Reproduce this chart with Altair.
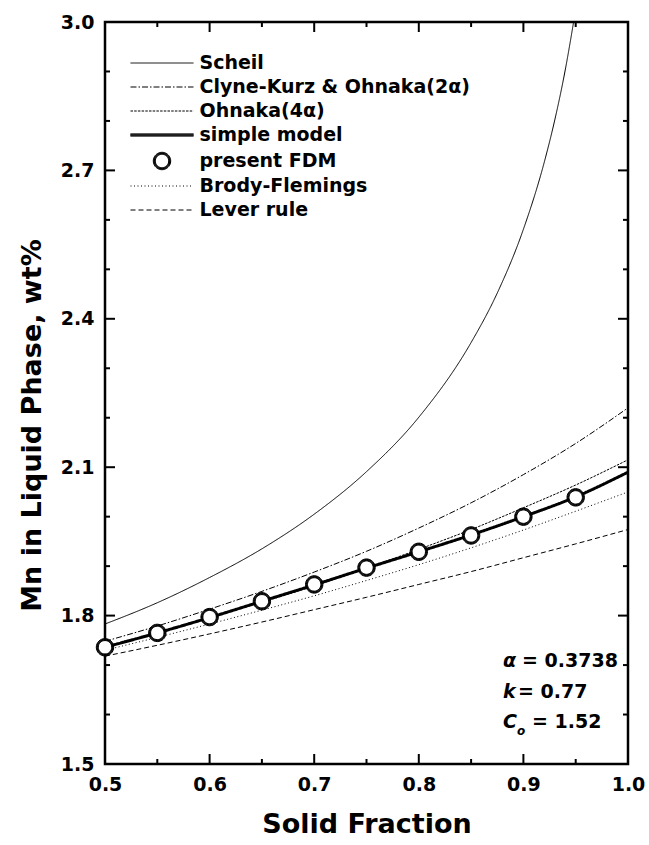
import altair as alt
import pandas as pd

# ---- values (wt% Mn in the liquid vs. solid fraction) ----
fs_grid = [0.50, 0.55, 0.60, 0.65, 0.70, 0.75, 0.80, 0.85, 0.90, 0.95, 1.00]

scheil_fs = [0.50, 0.55, 0.60, 0.65, 0.70, 0.75, 0.80, 0.85, 0.875, 0.90, 0.92, 0.93, 0.94, 0.948]
scheil = [1.783, 1.826, 1.877, 1.935, 2.005, 2.091, 2.201, 2.352, 2.452, 2.581, 2.717, 2.802, 2.903, 3.000]

clyne_kurz = [1.748, 1.779, 1.813, 1.849, 1.888, 1.930, 1.977, 2.028, 2.085, 2.148, 2.220]
ohnaka_4a = [1.738, 1.766, 1.796, 1.827, 1.860, 1.896, 1.934, 1.974, 2.018, 2.064, 2.115]
simple_model = [1.736, 1.765, 1.796, 1.829, 1.862, 1.896, 1.929, 1.963, 2.000, 2.040, 2.090]
brody_flemings = [1.730, 1.756, 1.783, 1.811, 1.840, 1.871, 1.903, 1.937, 1.973, 2.011, 2.050]
lever_rule = [1.718, 1.740, 1.763, 1.787, 1.812, 1.837, 1.863, 1.889, 1.917, 1.945, 1.974]

fdm_fs = [0.50, 0.55, 0.60, 0.65, 0.70, 0.75, 0.80, 0.85, 0.90, 0.95]
fdm = [1.736, 1.765, 1.797, 1.829, 1.863, 1.897, 1.929, 1.962, 2.000, 2.039]

series_names = ["Scheil", "Clyne-Kurz & Ohnaka(2α)", "Ohnaka(4α)", "simple model",
                "present FDM", "Brody-Flemings", "Lever rule"]

x_major = [0.5, 0.6, 0.7, 0.8, 0.9, 1.0]
x_minor = [0.55, 0.65, 0.75, 0.85, 0.95]
y_major = [1.5, 1.8, 2.1, 2.4, 2.7, 3.0]
y_minor = [1.6, 1.7, 1.9, 2.0, 2.2, 2.3, 2.5, 2.6, 2.8, 2.9]


def long_table(names, xs_list, ys_list):
    rows = []
    for name, xs, ys in zip(names, xs_list, ys_list):
        rows += [{"fs": x, "value": y, "model": name} for x, y in zip(xs, ys)]
    return pd.DataFrame(rows)


thin = long_table(["Scheil", "Clyne-Kurz & Ohnaka(2α)", "Ohnaka(4α)", "Brody-Flemings", "Lever rule"],
                  [scheil_fs, fs_grid, fs_grid, fs_grid, fs_grid],
                  [scheil, clyne_kurz, ohnaka_4a, brody_flemings, lever_rule])
thick = long_table(["simple model"], [fs_grid], [simple_model])
points = long_table(["present FDM"], [fdm_fs], [fdm])

W, H = 523, 742
FONT = "DejaVu Sans"

# ---- scales ----
xs = alt.Scale(domain=[0.5, 1.0], nice=False, zero=False)
ys = alt.Scale(domain=[1.5, 3.0], nice=False, zero=False)

dash_scale = alt.Scale(
    domain=series_names,
    range=[[1, 0], [6, 2, 1.5, 2], [2.5, 1.2], [1, 0], [1, 0], [1, 2.5], [5, 3]],
)

# legend / marker glyphs (symbol paths are scaled by sqrt(size)/2)
LINE = "M-15.75,0L15.75,0"
BOLD = "".join(f"M-15.75,{d}L15.75,{d}" for d in (-0.6, -0.3, 0, 0.3, 0.6))


def ring(r):
    return f"M{r},0A{r},{r},0,1,1,{-r},0A{r},{r},0,1,1,{r},0Z"


RING = "".join(ring(r) for r in (3.35, 3.6, 3.85, 4.1, 4.35))
shape_scale = alt.Scale(domain=series_names,
                        range=[LINE, LINE, LINE, BOLD, RING, LINE, LINE])

legend = alt.Legend(title=None)

# one shared axis definition per channel, repeated on every layer
x_axis = alt.Axis(values=x_major, format=".1f", ticks=False, tickSize=0, domain=False,
                  grid=False, labelFlush=False, labelPadding=11,
                  title="Solid Fraction", titleY=60, titleBaseline="middle")
y_axis = alt.Axis(values=y_major, format=".1f", ticks=False, tickSize=0, domain=False,
                  grid=False, labelFlush=False, labelPadding=11,
                  title="Mn in Liquid Phase, wt%", titleX=-73, titleY=403,
                  titleBaseline="middle")


def X(field):
    return alt.X(field, scale=xs, axis=x_axis, title="Solid Fraction")


def Y(field):
    return alt.Y(field, scale=ys, axis=y_axis, title="Mn in Liquid Phase, wt%")


lines_thin = alt.Chart(thin).mark_line(color="black", strokeWidth=1, interpolate="monotone").encode(
    x=X("fs:Q"), y=Y("value:Q"),
    strokeDash=alt.StrokeDash("model:N", scale=dash_scale, legend=legend),
)

line_simple = alt.Chart(thick).mark_line(color="black", strokeWidth=3, interpolate="monotone").encode(
    x=X("fs:Q"), y=Y("value:Q"),
    strokeDash=alt.StrokeDash("model:N", scale=dash_scale, legend=legend),
)

fdm_disks = alt.Chart(points).mark_circle(color="white", opacity=1, size=200).encode(
    x=X("fs:Q"), y=Y("value:Q"),
)

fdm_rings = alt.Chart(points).mark_point(
    filled=False, stroke="black", strokeWidth=1, size=16, opacity=1
).encode(
    x=X("fs:Q"), y=Y("value:Q"),
    shape=alt.Shape("model:N", scale=shape_scale, legend=legend),
)


# ---- inward frame ticks, placed through the axis scales ----
def x_ticks(values, length, top):
    y0, y1 = (0, length) if top else (H, H - length)
    return alt.Chart(pd.DataFrame({"fs": values})).mark_rule(color="black", strokeWidth=2).encode(
        x=X("fs:Q"), y=alt.value(y0), y2=alt.value(y1))


def y_ticks(values, length, right):
    x0, x1 = (W, W - length) if right else (0, length)
    return alt.Chart(pd.DataFrame({"value": values})).mark_rule(color="black", strokeWidth=2).encode(
        y=Y("value:Q"), x=alt.value(x0), x2=alt.value(x1))


ticks = [
    x_ticks(x_major, 10, False), x_ticks(x_minor, 5, False),
    x_ticks(x_major, 10, True), x_ticks(x_minor, 5, True),
    y_ticks(y_major, 10, False), y_ticks(y_minor, 5, False),
    y_ticks(y_major, 10, True), y_ticks(y_minor, 5, True),
]

# ---- parameter annotation ----
one = pd.DataFrame({"row": [0]})


def note(text, x, y, size=19, style="normal"):
    return alt.Chart(one).mark_text(
        text=text, align="left", baseline="middle", font=FONT, fontSize=size,
        fontWeight="bold", fontStyle=style, color="black"
    ).encode(x=alt.value(x), y=alt.value(y))


notes = [
    note("α", 398, 639, style="italic"),
    note("= 0.3738", 417, 639),
    note("k", 398, 670, style="italic"),
    note("= 0.77", 413, 670),
    note("C", 398, 700, style="italic"),
    note("o", 412, 709, size=12, style="italic"),
    note("= 1.52", 427, 700),
]

chart = alt.layer(lines_thin, *ticks, line_simple, fdm_disks, fdm_rings, *notes).properties(
    width=W, height=H,
    padding={"left": 105, "top": 22, "right": 21, "bottom": 81},
    autosize=alt.AutoSizeParams(type="none"),
    background="white",
).configure_view(
    stroke="black", strokeWidth=2.5
).configure_axis(
    labelFont=FONT, labelFontSize=19, labelFontWeight="bold", labelColor="black",
    titleFont=FONT, titleFontSize=27, titleFontWeight="bold", titleColor="black",
).configure_legend(
    orient="none", legendX=37, legendY=31.5, padding=0,
    symbolSize=16, symbolStrokeWidth=1, symbolOffset=10.5, labelOffset=28,
    symbolStrokeColor="black", symbolFillColor="white",
    labelFont=FONT, labelFontSize=19, labelFontWeight="bold", labelColor="black",
    labelLimit=400, rowPadding=4,
)

chart.save("out.html", embed_options={"renderer": "svg", "actions": False})
